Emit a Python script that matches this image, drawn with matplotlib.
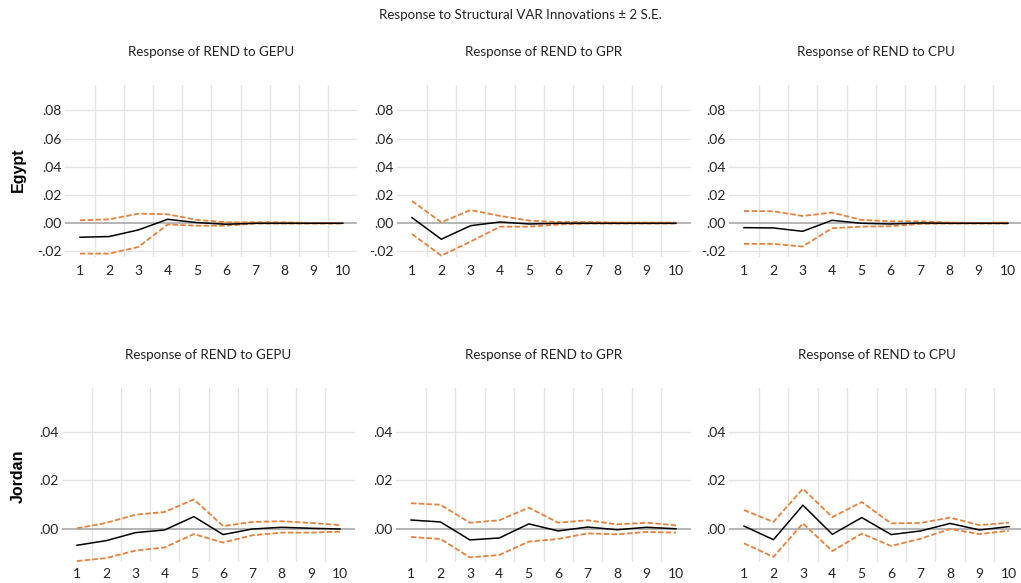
import matplotlib
matplotlib.use("Agg")
import matplotlib.pyplot as plt

# impulse-response estimates, horizons 1..10
periods = list(range(1, 11))

egypt_gepu = [-0.0099, -0.0094, -0.0047, 0.0028, 0.0005, -0.0007, 0.0000, 0.0000, 0.0000, 0.0000]
egypt_gepu_hi = [0.0021, 0.0028, 0.0068, 0.0064, 0.0024, 0.0007, 0.0007, 0.0007, 0.0002, 0.0002]
egypt_gepu_lo = [-0.0215, -0.0215, -0.0168, -0.0009, -0.0017, -0.0017, -0.0002, -0.0002, -0.0002, -0.0002]

egypt_gpr = [0.0040, -0.0113, -0.0017, 0.0009, -0.0005, 0.0000, 0.0000, 0.0000, 0.0000, 0.0000]
egypt_gpr_hi = [0.0158, 0.0007, 0.0094, 0.0052, 0.0019, 0.0009, 0.0009, 0.0005, 0.0005, 0.0005]
egypt_gpr_lo = [-0.0076, -0.0229, -0.0130, -0.0024, -0.0024, -0.0009, -0.0002, -0.0002, -0.0002, -0.0002]

egypt_cpu = [-0.0031, -0.0033, -0.0057, 0.0021, 0.0000, -0.0005, 0.0002, 0.0000, 0.0000, 0.0000]
egypt_cpu_hi = [0.0087, 0.0085, 0.0052, 0.0076, 0.0024, 0.0014, 0.0014, 0.0005, 0.0002, 0.0005]
egypt_cpu_lo = [-0.0146, -0.0146, -0.0165, -0.0035, -0.0024, -0.0021, -0.0005, -0.0002, -0.0002, -0.0002]

jordan_gepu = [-0.0067, -0.0048, -0.0015, -0.0004, 0.0051, -0.0023, 0.0000, 0.0007, 0.0003, 0.0000]
jordan_gepu_hi = [0.0003, 0.0025, 0.0059, 0.0070, 0.0122, 0.0012, 0.0029, 0.0032, 0.0025, 0.0016]
jordan_gepu_lo = [-0.0132, -0.0120, -0.0089, -0.0076, -0.0021, -0.0056, -0.0026, -0.0015, -0.0015, -0.0011]

jordan_gpr = [0.0037, 0.0029, -0.0045, -0.0037, 0.0021, -0.0008, 0.0008, -0.0003, 0.0007, 0.0001]
jordan_gpr_hi = [0.0106, 0.0100, 0.0026, 0.0036, 0.0088, 0.0026, 0.0036, 0.0019, 0.0026, 0.0015]
jordan_gpr_lo = [-0.0033, -0.0041, -0.0117, -0.0107, -0.0052, -0.0041, -0.0018, -0.0022, -0.0012, -0.0015]

jordan_cpu = [0.0012, -0.0044, 0.0098, -0.0022, 0.0047, -0.0023, -0.0008, 0.0023, -0.0004, 0.0010]
jordan_cpu_hi = [0.0078, 0.0029, 0.0166, 0.0049, 0.0111, 0.0023, 0.0025, 0.0047, 0.0016, 0.0026]
jordan_cpu_lo = [-0.0059, -0.0115, 0.0023, -0.0091, -0.0019, -0.0070, -0.0040, 0.0000, -0.0021, -0.0007]

titles = ["Response of REND to GEPU", "Response of REND to GPR", "Response of REND to CPU"]
countries = ["Egypt", "Jordan"]
top_ticks = [-0.02, 0.00, 0.02, 0.04, 0.06, 0.08]
bottom_ticks = [0.00, 0.02, 0.04]

plt.rcParams['font.family'] = ['Lato', 'DejaVu Sans']

W, H = 1021, 583
fig = plt.figure(figsize=(W / 100, H / 100), dpi=100)

ORANGE = "#E8803A"
GRID = "#E4E4E4"
TXT = "#222222"


def fmt(v):
    s = f"{v:.2f}"
    return s.replace("0.", ".", 1)


def panel(left, right, top, bottom, ylim, yticks, resp, hi, lo, title, xpad):
    ax = fig.add_axes([left / W, 1 - bottom / H, (right - left) / W, (bottom - top) / H])
    ax.set_xlim(0.5, 10.5)
    ax.set_ylim(*ylim)
    for s in ax.spines.values():
        s.set_visible(False)
    for x in range(1, 10):
        ax.axvline(x + 0.5, color=GRID, lw=1.0, zorder=0)
    for y in yticks:
        if y != 0:
            ax.axhline(y, color=GRID, lw=1.0, zorder=0)
    ax.axhline(0, color="#A8A8A8", lw=1.2, zorder=1)
    ax.plot(periods, hi, color=ORANGE, lw=1.3, dashes=(3, 1.3), zorder=2)
    ax.plot(periods, lo, color=ORANGE, lw=1.3, dashes=(3, 1.3), zorder=2)
    ax.plot(periods, resp, color="black", lw=1.1, zorder=3)
    ax.set_xticks(periods)
    ax.set_yticks(yticks)
    ax.set_yticklabels([fmt(v) for v in yticks])
    ax.tick_params(length=0, labelsize=10, colors=TXT)
    ax.tick_params(axis="y", pad=3)
    ax.tick_params(axis="x", pad=xpad)
    fig.text((left + right) / 2 / W, 1 - (top - 33) / H, title,
             ha="center", va="center", fontsize=9.6, color=TXT)
    return ax


top_x = [(65.4, 357.4), (397.3, 690.6), (729.3, 1022.6)]
bot_x = [(62.4, 354.6), (396.3, 690.7), (729.3, 1023.7)]

egypt = [(egypt_gepu, egypt_gepu_hi, egypt_gepu_lo),
         (egypt_gpr, egypt_gpr_hi, egypt_gpr_lo),
         (egypt_cpu, egypt_cpu_hi, egypt_cpu_lo)]
jordan = [(jordan_gepu, jordan_gepu_hi, jordan_gepu_lo),
          (jordan_gpr, jordan_gpr_hi, jordan_gpr_lo),
          (jordan_cpu, jordan_cpu_hi, jordan_cpu_lo)]

for (l, r), (m, h, lo), t in zip(top_x, egypt, titles):
    panel(l, r, 85, 257, (-0.0239, 0.098), top_ticks, m, h, lo, t, 6)

for (l, r), (m, h, lo), t in zip(bot_x, jordan, titles):
    panel(l, r, 388, 562, (-0.0136, 0.0581), bottom_ticks, m, h, lo, t, 4)

fig.text(520 / W, 1 - 15 / H, "Response to Structural VAR Innovations \u00b1 2 S.E.",
         ha="center", va="center", fontsize=9.6, color=TXT)

fig.text(18 / W, 1 - 170 / H, countries[0], rotation=90, ha="center", va="center",
         fontsize=11.5, fontweight="bold", family=["Liberation Sans", "DejaVu Sans"])
fig.text(18 / W, 1 - 476 / H, countries[1], rotation=90, ha="center", va="center",
         fontsize=11.5, fontweight="bold", family=["Liberation Sans", "DejaVu Sans"])

fig.savefig("out.png", dpi=100)
